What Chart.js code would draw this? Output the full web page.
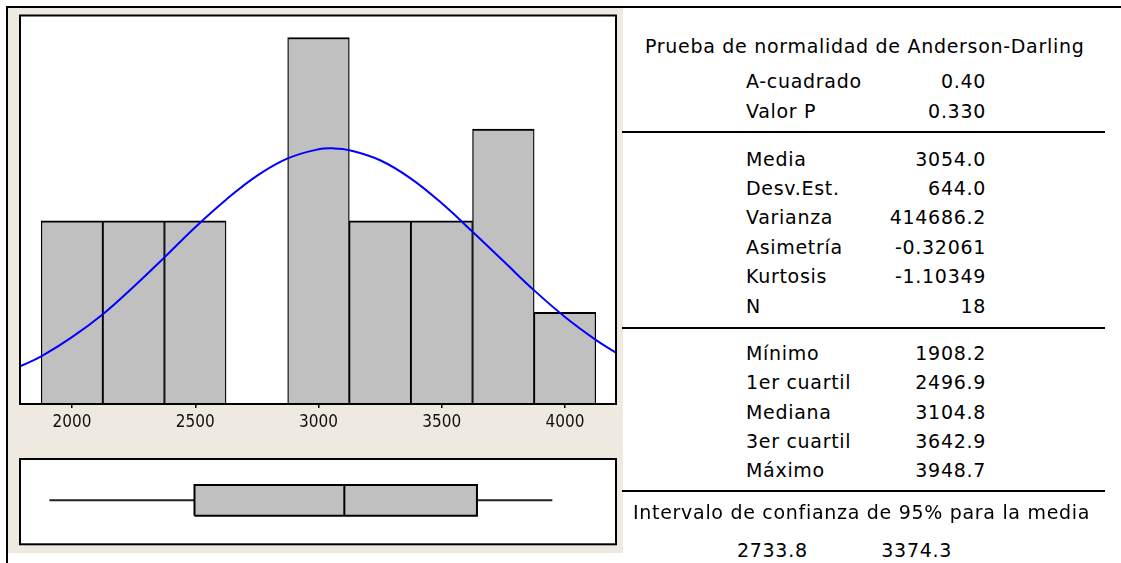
<!DOCTYPE html>
<html>
<head>
<meta charset="utf-8">
<script src="https://cdn.jsdelivr.net/npm/chart.js@4.4.1/dist/chart.umd.min.js"></script>
<style>
  html, body { margin: 0; padding: 0; background: #ffffff; }
  body { width: 1121px; height: 563px; position: relative; overflow: hidden;
         font-family: "DejaVu Sans", sans-serif; color: #000; }
  #topRule  { position: absolute; left: 6px; top: 6px; width: 1115px; border-top: 2px solid #000; }
  #leftRule { position: absolute; left: 6px; top: 6px; height: 557px; border-left: 2px solid #000; }
  #panel    { position: absolute; left: 8px; top: 8px; width: 615px; height: 545px; background: #EEEAE0; }
  #histWrap { position: absolute; left: 9px; top: 8px; width: 614px; height: 445px; }
  #boxWrap  { position: absolute; left: 9px; top: 453px; width: 614px; height: 100px; }
  .rule { position: absolute; left: 622px; width: 483px; border-top: 2px solid #000; }
  .t { position: absolute; font-size: 19px; line-height: 20px; letter-spacing: 0.7px; white-space: nowrap; }
  .r { text-align: right; }
</style>
</head>
<body>
<div id="panel"></div>
<div id="topRule"></div>
<div id="leftRule"></div>
<div id="histWrap"><canvas id="hist" width="614" height="445"></canvas></div>
<div id="boxWrap"><canvas id="box" width="614" height="100"></canvas></div>
<div id="stats"></div>

<script>
// Histogram bins (bin width 250) and their counts
const binCenters = [2000, 2250, 2500, 2750, 3000, 3250, 3500, 3750, 4000];
const binCounts  = [2, 2, 2, 0, 4, 2, 2, 3, 1];

// Fitted normal curve, read at regular positions along the axis
const curveX = [1789, 1875, 2000, 2125, 2250, 2375, 2500, 2625, 2750, 2875, 3000, 3060,
                3125, 3250, 3375, 3500, 3625, 3750, 3875, 4000, 4125, 4207];
const curveY = [0.41, 0.52, 0.73, 0.98, 1.28, 1.60, 1.93, 2.23, 2.49, 2.68, 2.78, 2.79,
                2.77, 2.66, 2.46, 2.19, 1.88, 1.56, 1.24, 0.95, 0.70, 0.56];

// Axis ticks
const xTicks = [2000, 2500, 3000, 3500, 4000];

// Boxplot summary: minimum, Q1, median, Q3, maximum
const boxStats = [1908.2, 2496.9, 3104.8, 3642.9, 3948.7];

// Summary table
const adLabels = ["A-cuadrado", "Valor P"];
const adValues = ["0.40", "0.330"];
const momentLabels = ["Media", "Desv.Est.", "Varianza", "Asimetría", "Kurtosis", "N"];
const momentValues = ["3054.0", "644.0", "414686.2", "-0.32061", "-1.10349", "18"];
const quantLabels = ["Mínimo", "1er cuartil", "Mediana", "3er cuartil", "Máximo"];
const quantValues = ["1908.2", "2496.9", "3104.8", "3642.9", "3948.7"];
const ciValues = ["2733.8", "3374.3"];

const X_MIN = 1789, X_MAX = 4207;
const tickFont = { family: '"DejaVu Sans Condensed", "Liberation Sans", sans-serif', size: 17 };

// White plot area with a black frame around it
const framePlugin = {
  id: 'frame',
  beforeDatasetsDraw(chart) {
    const a = chart.chartArea, ctx = chart.ctx;
    ctx.save();
    ctx.fillStyle = '#ffffff';
    ctx.fillRect(a.left, a.top, a.right - a.left, a.bottom - a.top);
    ctx.restore();
  },
  afterDatasetsDraw(chart) {
    const a = chart.chartArea, ctx = chart.ctx;
    ctx.save();
    ctx.strokeStyle = '#000';
    ctx.lineWidth = 2;
    ctx.strokeRect(a.left, a.top, a.right - a.left, a.bottom - a.top);
    ctx.restore();
  }
};

// ---- Histogram with normal fit ----
new Chart(document.getElementById('hist'), {
  type: 'bar',
  data: {
    datasets: [
      {
        type: 'line',
        data: curveX.map((x, i) => ({ x: x, y: curveY[i] })),
        borderColor: '#0000FF',
        borderWidth: 2,
        pointRadius: 0,
        tension: 0.4,
        fill: false,
        order: 1
      },
      {
        type: 'bar',
        data: binCenters.map((c, i) => ({ x: c, y: binCounts[i] })),
        backgroundColor: '#C0C0C0',
        borderColor: '#000000',
        borderWidth: { top: 2, left: 1.3, right: 1.3, bottom: 0 },
        borderSkipped: false,
        barPercentage: 1,
        categoryPercentage: 1,
        order: 2
      }
    ]
  },
  options: {
    responsive: false,
    animation: false,
    devicePixelRatio: 1,
    layout: { padding: { left: 11, right: 7, top: 7.5, bottom: 19 } },
    plugins: { legend: { display: false }, tooltip: { enabled: false } },
    scales: {
      x: {
        type: 'linear',
        min: X_MIN, max: X_MAX,
        offset: false,
        afterBuildTicks: (s) => { s.ticks = xTicks.map(v => ({ value: v })); },
        afterFit: (s) => { s.height = 30; },
        grid: { display: true, offset: false, drawOnChartArea: false, drawTicks: true, tickLength: 4,
                color: '#000', lineWidth: 1.5 },
        border: { display: false },
        ticks: { font: tickFont, color: '#111', padding: 4, maxRotation: 0,
                 callback: (v) => String(v) }
      },
      y: { display: false, min: 0, max: 4.24 }
    }
  },
  plugins: [framePlugin]
});

// ---- Boxplot on the same x range ----
const [bMin, bQ1, bMed, bQ3, bMax] = boxStats;
const LO = 0.335, HI = 0.695, MID = 0.515;
new Chart(document.getElementById('box'), {
  type: 'scatter',
  data: {
    datasets: [
      { data: [{ x: bQ1, y: HI }, { x: bQ3, y: HI }], showLine: true, fill: { value: LO },
        backgroundColor: '#C0C0C0', borderWidth: 0, pointRadius: 0, order: 5 },
      { data: [{ x: bQ1, y: LO }, { x: bQ3, y: LO }, { x: bQ3, y: HI }, { x: bQ1, y: HI }, { x: bQ1, y: LO }],
        showLine: true, borderColor: '#000', borderWidth: 2, pointRadius: 0, order: 1 },
      { data: [{ x: bMed, y: LO }, { x: bMed, y: HI }],
        showLine: true, borderColor: '#000', borderWidth: 2, pointRadius: 0, order: 1 },
      { data: [{ x: bMin, y: MID }, { x: bQ1, y: MID }],
        showLine: true, borderColor: '#222', borderWidth: 2, pointRadius: 0, order: 2 },
      { data: [{ x: bQ3, y: MID }, { x: bMax, y: MID }],
        showLine: true, borderColor: '#222', borderWidth: 2, pointRadius: 0, order: 2 }
    ]
  },
  options: {
    responsive: false,
    animation: false,
    devicePixelRatio: 1,
    layout: { padding: { left: 11, right: 7, top: 6, bottom: 8.7 } },
    plugins: { legend: { display: false }, tooltip: { enabled: false } },
    scales: {
      x: { type: 'linear', display: false, min: X_MIN, max: X_MAX },
      y: { display: false, min: 0, max: 1 }
    }
  },
  plugins: [framePlugin]
});

// ---- Summary table ----
const stats = document.getElementById('stats');
function put(text, cy, opts) {
  const d = document.createElement('div');
  d.className = 't' + (opts.right !== undefined ? ' r' : '');
  d.textContent = text;
  d.style.top = (cy - 10) + 'px';
  if (opts.left !== undefined) d.style.left = opts.left + 'px';
  if (opts.right !== undefined) d.style.right = (1121 - opts.right) + 'px';
  stats.appendChild(d);
}
function rule(y) {
  const d = document.createElement('div');
  d.className = 'rule';
  d.style.top = (y - 1) + 'px';
  stats.appendChild(d);
}
const LABEL_X = 746, VALUE_R = 986;
put("Prueba de normalidad de Anderson-Darling", 46, { left: 645 });
[81, 111].forEach((cy, i) => { put(adLabels[i], cy, { left: LABEL_X }); put(adValues[i], cy, { right: VALUE_R }); });
rule(131.5);
[158.5, 188, 217, 246.5, 276, 305.5].forEach((cy, i) => { put(momentLabels[i], cy, { left: LABEL_X }); put(momentValues[i], cy, { right: VALUE_R }); });
rule(328);
[353, 382, 411.5, 441, 470].forEach((cy, i) => { put(quantLabels[i], cy, { left: LABEL_X }); put(quantValues[i], cy, { right: VALUE_R }); });
rule(491);
put("Intervalo de confianza de 95% para la media", 511.5, { left: 633 });
put(ciValues[0], 550, { left: 737 });
put(ciValues[1], 550, { right: 952 });
</script>
</body>
</html>
